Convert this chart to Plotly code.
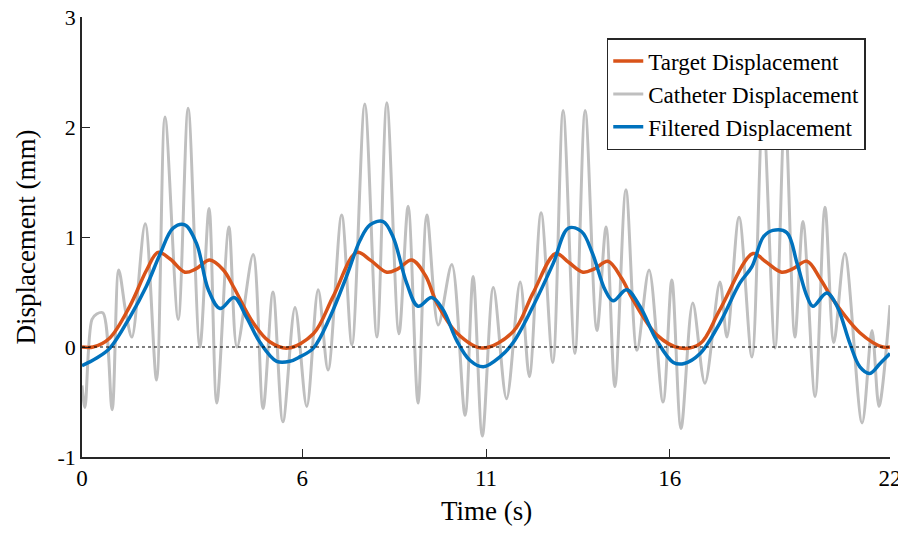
import plotly.graph_objects as go

# ---- data ----
target_t = [0, 0.3, 0.75, 1.3, 1.76, 2.07, 2.4, 2.8, 3.1, 3.48, 3.85, 4.12, 4.66, 5.1, 5.6,
            6.3, 6.84, 7.48, 7.85, 8.3, 8.6, 8.98, 9.35, 9.66, 10.2, 10.9,
            11.74, 12.28, 12.9, 13.25, 13.64, 13.95, 14.32, 14.7, 15.0, 15.65, 16.28,
            16.83, 17.37, 18.27, 18.6, 19.05, 19.35, 19.74, 20.1, 20.45, 21.18, 21.8, 22.0]
target_v = [0.0, 0.0, 0.08, 0.37, 0.70, 0.86, 0.80, 0.68, 0.71, 0.79, 0.70, 0.55, 0.22, 0.05, -0.01,
            0.12, 0.46, 0.86, 0.79, 0.68, 0.71, 0.79, 0.65, 0.40, 0.13, -0.01,
            0.14, 0.49, 0.85, 0.77, 0.68, 0.71, 0.78, 0.62, 0.43, 0.11, -0.01,
            0.03, 0.34, 0.85, 0.78, 0.68, 0.71, 0.78, 0.62, 0.43, 0.13, 0.0, 0.0]

cath_t = [0.0, 0.08, 0.27, 0.4, 0.57, 0.82, 1.0, 1.2, 1.36, 1.72, 2.03, 2.26, 2.62, 2.89,
          3.21, 3.46, 3.67, 4.0, 4.22, 4.66, 4.93, 5.2, 5.47, 5.8, 6.12, 6.43, 6.7, 7.07,
          7.35, 7.7, 8.03, 8.3, 8.63, 8.88, 9.15, 9.39, 9.7, 10.07, 10.43, 10.65, 10.9,
          11.2, 11.56, 11.93, 12.18, 12.5, 12.82, 13.1, 13.42, 13.7, 14.02, 14.27, 14.51,
          14.81, 15.11, 15.44, 15.82, 16.06, 16.31, 16.63, 16.96, 17.37, 17.56, 17.89,
          18.24, 18.54, 18.87, 19.14, 19.41, 19.63, 19.96, 20.23, 20.47, 20.77, 21.24,
          21.51, 21.7, 22.0]
cath_v = [-0.35, -0.55, 0.25, 0.30, 0.31, -0.57, 0.70, 0.30, 0.09, 1.12, -0.30, 2.09, 0.25, 2.17,
          0.0, 1.26, -0.51, 1.09, 0.0, 0.84, -0.56, 0.50, -0.68, 0.36, -0.54, 0.52, -0.21, 1.20,
          0.02, 2.21, 0.09, 2.22, 0.12, 1.28, -0.51, 1.20, 0.20, 0.75, -0.62, 0.64, -0.81,
          0.54, -0.47, 0.59, -0.27, 1.22, -0.14, 2.15, -0.06, 2.15, 0.15, 1.09, -0.36,
          1.43, -0.03, 0.70, -0.50, 0.61, -0.74, 0.40, -0.33, 0.59, 0.09, 1.18,
          -0.09, 2.15, -0.01, 2.15, 0.09, 1.14, -0.45, 1.27, 0.04, 0.85, -0.69,
          0.15, -0.54, 0.38]

filt_t = [0, 0.4, 0.76, 1.3, 1.75, 2.12, 2.48, 2.8, 3.12, 3.44, 3.76, 4.14, 4.48, 4.85, 5.3,
          5.66, 5.93, 6.3, 6.75, 7.2, 7.57, 7.84, 8.2, 8.47, 8.84, 9.15, 9.52, 9.83, 10.2,
          10.56, 10.93, 11.38, 11.74, 12.28, 12.83, 13.24, 13.6, 13.9, 14.24, 14.46, 14.83,
          15.19, 15.65, 16.1, 16.4, 16.83, 17.37, 17.91, 18.24, 18.55, 18.81, 19.19, 19.47,
          19.74, 19.9, 20.28, 20.56, 20.9, 21.18, 21.45, 21.73, 22.0]
filt_v = [-0.17, -0.10, -0.01, 0.27, 0.55, 0.84, 1.08, 1.11, 0.94, 0.52, 0.35, 0.45, 0.27, 0.04, -0.13,
          -0.13, -0.09, -0.01, 0.27, 0.64, 0.97, 1.11, 1.14, 1.00, 0.58, 0.37, 0.45, 0.34, 0.06,
          -0.12, -0.18, -0.09, 0.04, 0.37, 0.76, 1.08, 1.05, 0.85, 0.52, 0.42, 0.52,
          0.37, 0.06, -0.14, -0.15, -0.06, 0.22, 0.58, 0.73, 1.00, 1.06, 1.04, 0.76,
          0.46, 0.37, 0.49, 0.37, 0.04, -0.18, -0.24, -0.15, -0.06]

x_ticks = [0, 6, 11, 16, 22]
y_ticks = [-1, 0, 1, 2, 3]

FONT = "Liberation Serif"
AX = "#262626"

fig = go.Figure()
fig.add_trace(go.Scatter(x=cath_t, y=cath_v, mode="lines", name="Catheter Displacement",
                         line=dict(color="#bfbfbf", width=3, shape="spline", smoothing=0.9),
                         legendrank=2))
fig.add_trace(go.Scatter(x=target_t, y=target_v, mode="lines", name="Target Displacement",
                         line=dict(color="#D95319", width=3.5, shape="spline", smoothing=1.0),
                         legendrank=1))
fig.add_trace(go.Scatter(x=filt_t, y=filt_v, mode="lines", name="Filtered Displacement",
                         line=dict(color="#0072BD", width=3.5, shape="spline", smoothing=1.0),
                         legendrank=3))

fig.add_shape(type="line", xref="x", yref="y", x0=0, x1=22, y0=0, y1=0,
              line=dict(color="black", width=1.2, dash="dot"), layer="above")

# x-axis title placed as an annotation, kept inside the figure
fig.add_annotation(text="Time (s)", xref="paper", yref="paper", x=0.5, y=-0.122,
                   xanchor="center", yanchor="middle", showarrow=False,
                   font=dict(size=27, family=FONT, color="black"))

# page body has an 8px margin, so the figure is offset to match the 906x535 window
fig.update_layout(
    width=898, height=519,
    margin=dict(l=74, r=16, t=9, b=70, autoexpand=False),
    paper_bgcolor="white", plot_bgcolor="white",
    font=dict(family=FONT, size=22, color="black"),
    showlegend=True,
    legend=dict(x=0.97, y=0.952, xanchor="right", yanchor="top",
                bgcolor="white", bordercolor=AX, borderwidth=1.5,
                font=dict(family=FONT, size=23, color="black"),
                tracegroupgap=0),
    xaxis=dict(range=[0, 22], tickvals=x_ticks, ticktext=[str(v) for v in x_ticks],
               showgrid=False, zeroline=False, showline=True, linecolor=AX, linewidth=1.5,
               ticks="inside", ticklen=8, tickwidth=1.2, tickcolor=AX, automargin=True,
               ticklabeloverflow="allow",
               tickfont=dict(size=23, family=FONT)),
    yaxis=dict(range=[-1, 3], tickvals=y_ticks, ticktext=[str(v) for v in y_ticks],
               showgrid=False, zeroline=False, showline=True, linecolor=AX, linewidth=1.5,
               ticks="inside", ticklen=8, tickwidth=1.2, tickcolor=AX, automargin=True,
               ticklabeloverflow="allow",
               tickfont=dict(size=22, family=FONT),
               title=dict(text="Displacement (mm)", font=dict(size=27, family=FONT), standoff=14)),
)

fig.write_html("out.html")
